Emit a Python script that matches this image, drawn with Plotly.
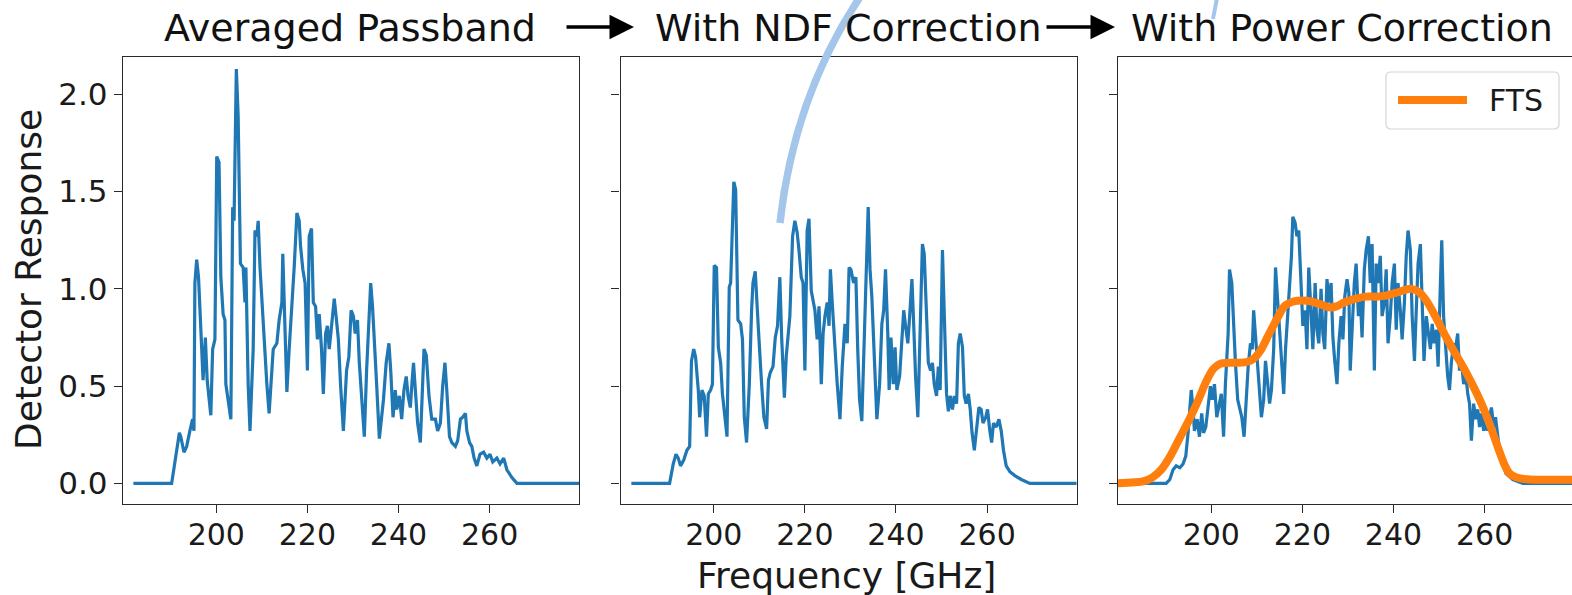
import plotly.graph_objects as go

# ---------------- data ----------------
freq_avg = [181.8, 190.2, 191.9, 192.2, 192.9, 193.5, 194.2, 194.8, 195.1, 195.3,
            195.7, 196.1, 196.8, 197.1, 197.6, 198.0, 198.8, 199.2, 199.7, 200.1,
            200.6, 201.0, 201.5, 201.9, 202.1, 202.6, 203.2, 203.6, 203.9, 204.4,
            204.8, 205.3, 205.9, 206.3, 206.5, 207.0, 207.4, 208.1, 208.5, 208.9,
            209.2, 209.6, 210.3, 211.1, 211.6, 212.2, 212.5, 213.3, 213.8, 214.4,
            214.6, 214.9, 215.5, 216.0, 216.6, 217.1, 217.7, 218.2, 218.5, 219.0,
            219.5, 220.0, 220.4, 220.9, 221.3, 221.8, 222.2, 222.6, 223.1, 223.5,
            224.0, 224.4, 224.8, 225.3, 225.9, 226.3, 226.8, 227.3, 227.9, 228.6,
            229.1, 229.6, 230.1, 230.5, 231.0, 231.4, 231.9, 232.5, 233.0, 233.4,
            233.9, 234.3, 234.7, 235.2, 235.8, 236.7, 237.3, 237.9, 238.3, 238.8,
            239.3, 239.6, 240.2, 240.7, 241.2, 241.7, 242.1, 242.6, 243.0, 243.3,
            243.7, 244.2, 244.8, 245.2, 245.6, 246.1, 246.4, 246.7, 247.3, 248.1,
            248.6, 249.2, 249.7, 250.2, 250.6, 251.2, 251.7, 252.5, 253.0, 253.6,
            254.1, 254.7, 255.0, 255.6, 256.1, 256.6, 257.2, 257.9, 258.7, 259.4,
            260.1, 260.7, 261.6, 262.3, 263.1, 263.8, 264.9, 266.0, 285.0]
resp_avg = [0.0, 0.0, 0.26, 0.24, 0.16, 0.19, 0.27, 0.33, 0.27, 1.03,
            1.15, 1.06, 0.69, 0.53, 0.75, 0.53, 0.35, 0.69, 0.74, 1.68,
            1.65, 1.06, 0.87, 0.84, 0.51, 0.43, 0.33, 1.42, 1.35, 2.13,
            1.89, 1.13, 1.11, 0.93, 1.11, 0.51, 0.27, 0.69, 1.30, 1.27,
            1.35, 1.11, 0.81, 0.51, 0.36, 0.63, 0.69, 0.72, 0.84, 0.93,
            1.18, 0.94, 0.47, 0.69, 0.91, 1.11, 1.39, 1.35, 1.22, 1.10,
            1.03, 0.58, 1.27, 1.31, 0.93, 0.91, 0.74, 0.87, 0.69, 0.46,
            0.77, 0.81, 0.69, 0.82, 0.95, 0.86, 0.74, 0.50, 0.27, 0.58,
            0.65, 0.89, 0.86, 0.77, 0.84, 0.62, 0.43, 0.24, 0.58, 0.75,
            1.03, 0.91, 0.75, 0.51, 0.23, 0.43, 0.62, 0.72, 0.58, 0.34,
            0.48, 0.38, 0.45, 0.33, 0.48, 0.55, 0.45, 0.39, 0.53, 0.62,
            0.48, 0.31, 0.21, 0.45, 0.69, 0.66, 0.53, 0.45, 0.33, 0.33,
            0.27, 0.31, 0.50, 0.62, 0.48, 0.24, 0.21, 0.19, 0.22, 0.33,
            0.34, 0.36, 0.27, 0.21, 0.19, 0.13, 0.09, 0.15, 0.16, 0.13,
            0.15, 0.11, 0.13, 0.10, 0.13, 0.07, 0.03, 0.0, 0.0]

freq_ndf = [181.9, 190.3, 191.1, 191.7, 192.2, 192.7, 193.4, 194.1, 194.7, 195.1,
            195.6, 196.0, 196.6, 196.9, 197.4, 197.9, 198.4, 198.8, 199.3, 199.7,
            200.1, 200.6, 201.0, 201.5, 201.9, 202.4, 202.9, 203.4, 203.7, 204.4,
            204.8, 205.3, 205.9, 206.3, 206.7, 207.2, 207.8, 208.3, 208.6, 209.1,
            209.4, 209.8, 210.5, 211.0, 211.6, 212.0, 212.4, 213.0, 213.5, 214.0,
            214.5, 214.9, 215.5, 215.9, 216.7, 217.3, 217.8, 218.3, 218.7, 219.2,
            219.6, 220.0, 220.5, 220.9, 221.4, 221.8, 222.2, 222.7, 223.1, 223.6,
            224.0, 224.4, 224.9, 225.3, 225.6, 226.0, 226.6, 227.1, 227.7, 228.2,
            228.8, 229.3, 229.7, 230.1, 230.7, 231.2, 231.6, 232.0, 232.5, 232.9,
            233.4, 233.9, 234.3, 234.7, 235.3, 235.8, 236.4, 236.9, 237.3, 237.7,
            238.2, 238.5, 238.9, 239.4, 239.8, 240.2, 240.8, 241.3, 241.7, 242.1,
            242.6, 243.0, 243.5, 243.9, 244.3, 244.8, 245.4, 245.8, 246.2, 246.7,
            247.1, 247.6, 248.0, 248.4, 248.9, 249.3, 249.7, 250.2, 250.6, 251.1,
            251.5, 251.9, 252.4, 252.8, 253.3, 253.7, 254.1, 254.6, 255.0, 255.4,
            255.9, 256.3, 256.7, 257.2, 257.6, 258.2, 258.7, 259.1, 259.7, 260.1,
            260.6, 261.0, 261.4, 262.0, 262.6, 263.1, 263.6, 264.2, 265.0, 266.1,
            267.5, 269.4, 285.0]
resp_ndf = [0.0, 0.0, 0.10, 0.15, 0.13, 0.09, 0.12, 0.17, 0.19, 0.63,
            0.69, 0.65, 0.48, 0.34, 0.48, 0.45, 0.24, 0.46, 0.48, 0.51,
            1.12, 1.11, 0.70, 0.62, 0.46, 0.34, 0.24, 1.01, 1.03, 1.55,
            1.51, 0.84, 0.82, 0.74, 0.34, 0.21, 0.51, 0.89, 1.03, 1.09,
            0.93, 0.79, 0.51, 0.34, 0.28, 0.53, 0.57, 0.60, 0.75, 0.81,
            1.06, 0.75, 0.44, 0.65, 0.86, 1.27, 1.35, 1.29, 1.20, 1.06,
            1.03, 0.58, 1.30, 1.36, 0.99, 0.94, 0.89, 0.74, 0.91, 0.51,
            0.77, 0.86, 0.93, 0.81, 1.10, 0.93, 0.69, 0.51, 0.33, 0.60,
            0.82, 0.72, 1.11, 1.10, 1.03, 1.06, 0.69, 0.43, 0.32, 0.69,
            1.03, 1.42, 1.10, 0.96, 0.65, 0.33, 0.51, 0.82, 0.89, 1.10,
            0.77, 0.48, 0.75, 0.51, 0.70, 0.48, 0.55, 0.77, 0.89, 0.81,
            0.72, 0.86, 1.05, 0.81, 0.55, 0.34, 0.89, 1.23, 1.18, 0.86,
            0.62, 0.58, 0.62, 0.51, 0.45, 0.60, 0.48, 1.20, 0.81, 0.46,
            0.37, 0.45, 0.38, 0.45, 0.41, 0.72, 0.77, 0.70, 0.45, 0.41,
            0.46, 0.38, 0.26, 0.17, 0.26, 0.39, 0.38, 0.31, 0.34, 0.38,
            0.27, 0.21, 0.31, 0.29, 0.33, 0.27, 0.17, 0.09, 0.06, 0.04,
            0.02, 0.0, 0.0]

freq_pow = [179.0, 190.1, 190.9, 191.6, 192.3, 193.1, 193.8, 194.4, 194.9, 195.2,
            195.6, 196.0, 196.3, 196.9, 197.4, 197.9, 198.3, 198.8, 199.3, 199.8,
            200.2, 200.7, 201.2, 201.7, 202.2, 202.7, 203.1, 203.7, 204.0, 204.5,
            204.9, 205.3, 205.8, 206.2, 206.7, 207.2, 207.7, 208.1, 208.6, 209.0,
            209.3, 209.7, 210.2, 210.6, 211.0, 211.5, 211.9, 212.4, 212.8, 213.2,
            213.7, 214.1, 214.6, 215.0, 215.4, 215.9, 216.3, 216.8, 217.2, 217.6,
            217.9, 218.4, 218.8, 219.2, 219.7, 220.1, 220.6, 221.0, 221.4, 221.9,
            222.3, 222.8, 223.2, 223.6, 224.1, 224.5, 224.9, 225.4, 225.8, 226.3,
            226.7, 227.1, 227.6, 228.0, 228.5, 228.9, 229.3, 229.8, 230.2, 230.5,
            230.9, 231.4, 231.8, 232.3, 232.7, 233.1, 233.6, 234.0, 234.5, 234.9,
            235.3, 235.8, 236.2, 236.6, 237.1, 237.5, 238.0, 238.4, 238.8, 239.3,
            239.7, 240.2, 240.6, 241.0, 241.5, 241.9, 242.4, 242.8, 243.2, 243.7,
            244.1, 244.6, 245.0, 245.4, 245.9, 246.3, 246.7, 247.2, 247.6, 248.1,
            248.5, 248.9, 249.4, 249.8, 250.3, 250.6, 251.0, 251.4, 251.9, 252.3,
            252.7, 253.2, 253.6, 254.1, 254.5, 254.9, 255.4, 255.8, 256.3, 256.7,
            257.1, 257.6, 258.0, 258.5, 258.9, 259.3, 259.8, 260.2, 260.6, 261.1,
            261.5, 262.0, 262.4, 262.8, 263.3, 264.0, 264.7, 266.2, 268.4, 285.0]
resp_pow = [0.0, 0.0, 0.02, 0.07, 0.09, 0.08, 0.10, 0.14, 0.26, 0.34,
            0.48, 0.38, 0.27, 0.33, 0.24, 0.36, 0.26, 0.29, 0.41, 0.50,
            0.43, 0.51, 0.34, 0.41, 0.46, 0.24, 0.51, 0.77, 1.10, 1.03,
            0.77, 0.62, 0.43, 0.38, 0.34, 0.24, 0.45, 0.60, 0.72, 0.69,
            0.89, 0.77, 0.58, 0.45, 0.34, 0.43, 0.63, 0.51, 0.41, 0.48,
            0.69, 1.11, 0.93, 0.79, 0.69, 0.46, 0.69, 0.86, 1.00, 1.17,
            1.37, 1.34, 1.27, 1.30, 1.03, 0.81, 0.89, 0.69, 1.11, 0.82,
            0.69, 1.03, 0.79, 0.72, 1.00, 0.77, 0.69, 1.05, 0.93, 1.03,
            0.75, 0.63, 0.51, 0.72, 0.86, 0.74, 0.96, 1.05, 0.98, 0.58,
            0.82, 1.03, 1.13, 0.86, 0.96, 0.75, 1.10, 1.20, 1.27, 1.03,
            1.23, 0.58, 1.13, 1.03, 1.17, 0.86, 0.93, 1.10, 0.72, 0.86,
            1.03, 1.13, 0.79, 1.03, 0.89, 0.74, 0.93, 1.17, 1.30, 1.20,
            0.86, 0.63, 0.89, 1.13, 1.23, 0.86, 0.63, 0.86, 0.77, 0.69,
            0.82, 0.72, 0.79, 0.60, 1.03, 1.25, 0.86, 0.72, 0.55, 0.48,
            0.62, 0.72, 0.69, 0.77, 0.58, 0.63, 0.51, 0.58, 0.46, 0.41,
            0.22, 0.41, 0.33, 0.38, 0.29, 0.36, 0.27, 0.33, 0.27, 0.34,
            0.39, 0.29, 0.34, 0.26, 0.17, 0.10, 0.05, 0.02, 0.0, 0.0]

freq_fts = [179.0, 185.0, 187.0, 189.0, 191.0, 193.0, 195.0, 197.0, 199.0, 200.5,
            202.0, 204.0, 206.0, 208.0, 209.5, 211.0, 212.5, 214.3, 216.0, 218.0,
            220.0, 222.0, 224.0, 226.0, 227.5, 229.6, 231.8, 234.0, 236.2, 238.4,
            240.6, 242.5, 244.0, 245.5, 247.2, 249.4, 251.6, 253.5, 255.5, 257.5,
            259.5, 261.5, 263.0, 264.3, 265.5, 267.0, 270.0, 285.0]
resp_fts = [0.0, 0.01, 0.03, 0.07, 0.14, 0.23, 0.32, 0.42, 0.53, 0.59,
            0.615, 0.62, 0.62, 0.625, 0.645, 0.69, 0.76, 0.84, 0.91, 0.935,
            0.94, 0.935, 0.92, 0.905, 0.91, 0.935, 0.95, 0.96, 0.96, 0.965,
            0.98, 0.995, 1.0, 0.985, 0.94, 0.85, 0.75, 0.67, 0.59, 0.50,
            0.40, 0.28, 0.18, 0.10, 0.05, 0.03, 0.02, 0.02]

panel_titles = ["Averaged Passband", "With NDF Correction", "With Power Correction"]
x_ticks = [200, 220, 240, 260]
y_ticks = [0.0, 0.5, 1.0, 1.5, 2.0]
x_label = "Frequency [GHz]"
y_label = "Detector Response"
legend_label = "FTS"

# ---------------- layout helpers (pixel -> paper) ----------------
W, H = 1572, 595
ML, MR, MT, MB = 123, 0, 57, 91
PW, PH = W - ML - MR, H - MT - MB


def px(xp):
    return (xp - ML) / PW


def py(yp):
    return (H - MB - yp) / PH


BLUE = "#1f77b4"
ORANGE = "#ff7f0e"
FRAME = "#2b2b2b"
FONT = "DejaVu Sans"
TXT = "#1a1a1a"

x_left = 179.52
gpx = 4.555  # pixels per GHz
panels = [(123, 579), (620.5, 1076.5), (1118, 1572)]

fig = go.Figure()
fig.add_trace(go.Scatter(x=freq_avg, y=resp_avg, mode="lines", line=dict(color=BLUE, width=3.2),
                         xaxis="x", yaxis="y", showlegend=False))
fig.add_trace(go.Scatter(x=freq_ndf, y=resp_ndf, mode="lines", line=dict(color=BLUE, width=3.2),
                         xaxis="x2", yaxis="y2", showlegend=False))
fig.add_trace(go.Scatter(x=freq_pow, y=resp_pow, mode="lines", line=dict(color=BLUE, width=3.2),
                         xaxis="x3", yaxis="y3", showlegend=False))
fig.add_trace(go.Scatter(x=freq_fts, y=resp_fts, mode="lines",
                         line=dict(color=ORANGE, width=8, shape="spline", smoothing=0.6),
                         xaxis="x3", yaxis="y3", name=legend_label, showlegend=False))

yr = [-0.106, 2.192]
layout = dict(
    width=W, height=H,
    margin=dict(l=ML, r=MR, t=MT, b=MB, pad=0),
    paper_bgcolor="white", plot_bgcolor="white",
    font=dict(family=FONT, size=30, color=TXT),
    showlegend=False,
)
for i, (a, b) in enumerate(panels):
    sfx = "" if i == 0 else str(i + 1)
    xr = [x_left, x_left + (b - a) / gpx]
    layout["xaxis" + sfx] = dict(
        domain=[px(a), min(1.0, px(b))], range=xr, anchor="y" + sfx,
        tickvals=x_ticks, ticks="outside", ticklen=8, tickwidth=1.2, tickcolor=FRAME,
        ticklabelstandoff=-4,
        showline=True, linecolor=FRAME, linewidth=1.4, mirror=True,
        showgrid=False, zeroline=False, tickfont=dict(size=30, color=TXT),
    )
    layout["yaxis" + sfx] = dict(
        domain=[0, 1], range=yr, anchor="x" + sfx,
        tickvals=y_ticks, tickformat=".1f", ticks="outside", ticklen=8, tickwidth=1.2,
        tickcolor=FRAME, showline=True, linecolor=FRAME, linewidth=1.4,
        mirror=(i < 2), showgrid=False, zeroline=False,
        showticklabels=(i == 0), tickfont=dict(size=31, color=TXT),
    )
fig.update_layout(**layout)

annotations = []
centers = [350, 848.5, 1342]
for t, c in zip(panel_titles, centers):
    annotations.append(dict(text=t, x=px(c), y=py(28), xref="paper", yref="paper",
                            xanchor="center", yanchor="middle", showarrow=False,
                            font=dict(size=38, color="#111111")))
annotations.append(dict(text=x_label, x=px(846), y=py(575), xref="paper", yref="paper",
                        xanchor="center", yanchor="middle", showarrow=False,
                        font=dict(size=36, color=TXT)))
annotations.append(dict(text=y_label, x=px(28), y=py(280), xref="paper", yref="paper",
                        xanchor="center", yanchor="middle", textangle=-90, showarrow=False,
                        font=dict(size=36, color=TXT)))
# black arrows between titles
for tail, head in [(565, 634), (1045, 1115)]:
    annotations.append(dict(text="", x=px(head), y=py(27), xref="paper", yref="paper",
                            ax=-(head - tail), ay=0, axref="pixel", ayref="pixel",
                            showarrow=True, arrowhead=2, arrowsize=1.4, arrowwidth=3.5,
                            arrowcolor="black", standoff=0, startstandoff=0))
# legend text
annotations.append(dict(text=legend_label, x=px(1487), y=py(100), xref="paper", yref="paper",
                        xanchor="left", yanchor="middle", showarrow=False,
                        font=dict(size=30, color=TXT)))
fig.update_layout(annotations=annotations)

# legend box (rounded), drawn manually
x0, x1, y0, y1 = px(1386), px(1559), py(129), py(72)
rx, ry = 5 / PW, 5 / PH
box = (f"M {x0+rx},{y1} L {x1-rx},{y1} Q {x1},{y1} {x1},{y1-ry} L {x1},{y0+ry} "
       f"Q {x1},{y0} {x1-rx},{y0} L {x0+rx},{y0} Q {x0},{y0} {x0},{y0+ry} "
       f"L {x0},{y1-ry} Q {x0},{y1} {x0+rx},{y1} Z")
shapes = [
    dict(type="path", path=box, xref="paper", yref="paper",
         line=dict(color="#d5d5d5", width=1.2), fillcolor="rgba(255,255,255,0.85)"),
    dict(type="line", x0=px(1398), x1=px(1467), y0=py(100), y1=py(100),
         xref="paper", yref="paper", line=dict(color=ORANGE, width=8)),
    # light blue decorative strokes
    dict(type="path", xref="paper", yref="paper",
         path=f"M {px(780)},{py(223)} Q {px(794)},{py(95)} {px(862)},{py(-6)}",
         line=dict(color="#a3c6ea", width=7.5)),
    dict(type="line", xref="paper", yref="paper",
         x0=px(1213), y0=py(19), x1=px(1217), y1=py(-2),
         line=dict(color="#a3c6ea", width=4)),
]
fig.update_layout(shapes=shapes)

fig.write_html("out.html")
